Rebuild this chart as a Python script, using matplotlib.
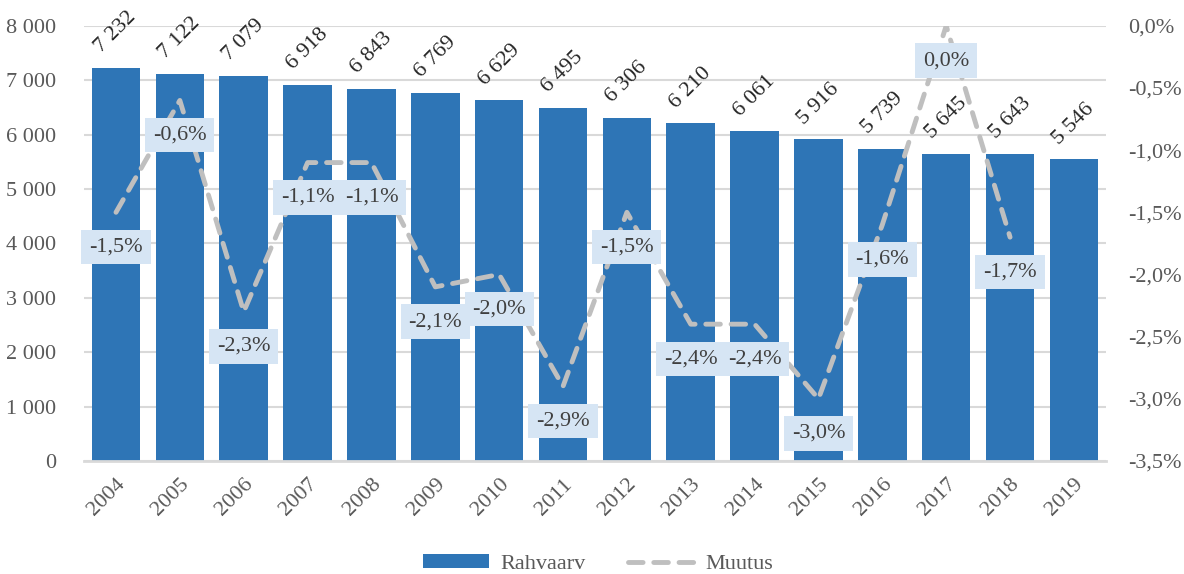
import numpy as np
import matplotlib
matplotlib.use("Agg")
import matplotlib.pyplot as plt
from matplotlib.ticker import FuncFormatter
from matplotlib.lines import Line2D
from matplotlib.patches import Patch

plt.rcParams['font.family'] = ['Liberation Serif', 'DejaVu Serif']

# data
years = ['2004', '2005', '2006', '2007', '2008', '2009', '2010', '2011',
         '2012', '2013', '2014', '2015', '2016', '2017', '2018', '2019']
rahvaarv = [7232, 7122, 7079, 6918, 6843, 6769, 6629, 6495,
            6306, 6210, 6061, 5916, 5739, 5645, 5643, 5546]
# yearly change in percent (no value for 2019)
muutus = [-1.5, -0.6, -2.3, -1.1, -1.1, -2.1, -2.0, -2.9,
          -1.5, -2.4, -2.4, -3.0, -1.6, 0.0, -1.7]

bar_color = '#2E75B6'
line_color = '#BFBFBF'
text_color = '#595959'
grid_color = '#D9D9D9'

fig = plt.figure(figsize=(11.84, 5.74), dpi=100)
ax = fig.add_axes([0.071, 0.197, 0.863, 0.758])
ax2 = ax.twinx()

x = np.arange(len(years))
ax.bar(x, rahvaarv, width=0.76, color=bar_color, zorder=2)

# value labels above bars
for xi, v in zip(x, rahvaarv):
    lab = f'{v:,}'.replace(',', ' ')
    ax.annotate(lab, (xi, v), xytext=(0, 8), textcoords='offset points',
                ha='center', va='bottom', rotation=45, fontsize=16,
                color='#262626', zorder=5)

ax.set_ylim(0, 8000)
ax.set_yticks(np.arange(0, 8001, 1000))
ax.yaxis.set_major_formatter(FuncFormatter(lambda v, p: f'{int(v):,}'.replace(',', ' ')))
ax.set_xlim(-0.5, len(years) - 0.5)
ax.set_xticks(x)
ax.set_xticklabels(years, rotation=45, ha='right', rotation_mode='anchor')
ax.grid(axis='y', color=grid_color, linewidth=1.5, zorder=0)
ax.set_axisbelow(True)
for s in ['top', 'right', 'left']:
    ax.spines[s].set_visible(False)
ax.spines['bottom'].set_color(grid_color)
ax.spines['bottom'].set_linewidth(2)
ax.tick_params(axis='both', length=0, labelsize=16, colors=text_color)
ax.tick_params(axis='x', pad=10)
ax.tick_params(axis='y', pad=20)

# change line on secondary axis
xm = x[:len(muutus)]
ax2.plot(xm, muutus, color=line_color, linewidth=3.5, linestyle=(0, (3, 2.2)),
         dash_capstyle='round', zorder=3)
ax2.set_ylim(-3.5, 0)
ax2.set_yticks(np.arange(-3.5, 0.01, 0.5))
ax2.yaxis.set_major_formatter(FuncFormatter(lambda v, p: f'{v:.1f}%'.replace('.', ',').replace('-0,0', '0,0')))
for s in ax2.spines.values():
    s.set_visible(False)
ax2.tick_params(axis='y', length=0, labelsize=16, colors=text_color, pad=16)

for xi, m in zip(xm, muutus):
    lab = f'{m:.1f}%'.replace('.', ',').replace('-0,0', '0,0')
    ax2.annotate(lab, (xi, m), xytext=(0, -25), textcoords='offset points',
                 ha='center', va='center', fontsize=16, color='#404040', zorder=6,
                 bbox=dict(boxstyle='square,pad=0.35', facecolor='#D6E5F4',
                           edgecolor='none'))

handles = [Patch(facecolor=bar_color, edgecolor='none', label='Rahvaarv'),
           Line2D([0], [0], color=line_color, linewidth=3.5, linestyle=(0, (3, 2.2)),
                  dash_capstyle='round', label='Muutus')]
leg = fig.legend(handles=handles, loc='lower center', bbox_to_anchor=(0.505, -0.035),
                 ncol=2, frameon=False, fontsize=16, handlelength=3.0,
                 handleheight=0.6, handletextpad=0.5, columnspacing=1.9)
for t in leg.get_texts():
    t.set_color(text_color)

fig.savefig('out.png', dpi=100)
